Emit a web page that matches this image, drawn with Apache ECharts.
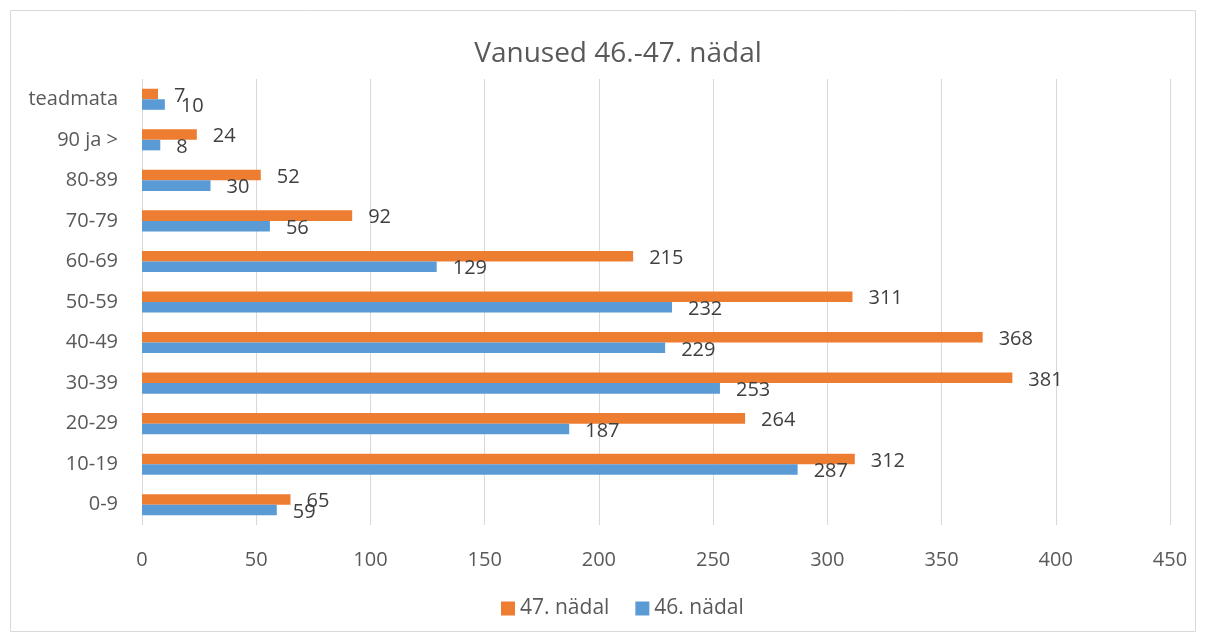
<!DOCTYPE html>
<html><head><meta charset="utf-8">
<script src="https://cdn.jsdelivr.net/npm/echarts@6/dist/echarts.min.js"></script>
<style>html,body{margin:0;padding:0;background:#fff}#c{width:1206px;height:641px}</style>
</head><body><div id="c"></div>
<script>
const categories = ['0-9','10-19','20-29','30-39','40-49','50-59','60-69','70-79','80-89','90 ja >','teadmata'];
const week47 = [65,312,264,381,368,311,215,92,52,24,7];
const week46 = [59,287,187,253,229,232,129,56,30,8,10];
const xTicks = [0,50,100,150,200,250,300,350,400,450];
const FONT = '"Open Sans", sans-serif';
const chart = echarts.init(document.getElementById('c'));
const lbl = {show:true, position:'right', distance:16, offset:[0,2], color:'#404040', fontSize:20, fontFamily:FONT};
chart.setOption({
  animation:false,
  graphic:[{type:'rect', shape:{x:10.5,y:10.5,width:1185,height:621}, style:{fill:'none', stroke:'#d9d9d9', lineWidth:1}, z:-1}],
  title:{text:'Vanused 46.-47. nädal', left:613, textAlign:'center', top:35, textStyle:{color:'#595959', fontSize:28, fontWeight:'normal', fontFamily:FONT}},
  legend:{bottom:17, left:496, itemWidth:14, itemHeight:14, itemGap:26, icon:'rect', data:['47. nädal','46. nädal'], textStyle:{color:'#595959', fontSize:21, fontFamily:FONT}},
  grid:{left:142, right:36, top:79, bottom:116, containLabel:false},
  xAxis:{type:'value', min:xTicks[0], max:xTicks[xTicks.length-1], interval:50,
    axisLine:{show:false}, axisTick:{show:false},
    axisLabel:{color:'#595959', fontSize:20, fontFamily:FONT, margin:25},
    splitLine:{lineStyle:{color:'#d9d9d9', width:1}}},
  yAxis:{type:'category', data:categories,
    axisLine:{show:false}, axisTick:{show:false},
    axisLabel:{color:'#595959', fontSize:20, fontFamily:FONT, margin:24}},
  series:[
    {name:'47. nädal', type:'bar', data:week47, itemStyle:{color:'#ed7d31'}, barGap:'0%', barCategoryGap:'48%', label:lbl},
    {name:'46. nädal', type:'bar', data:week46, itemStyle:{color:'#5b9bd5'}, barGap:'0%', barCategoryGap:'48%', label:lbl}
  ]
});
</script></body></html>
